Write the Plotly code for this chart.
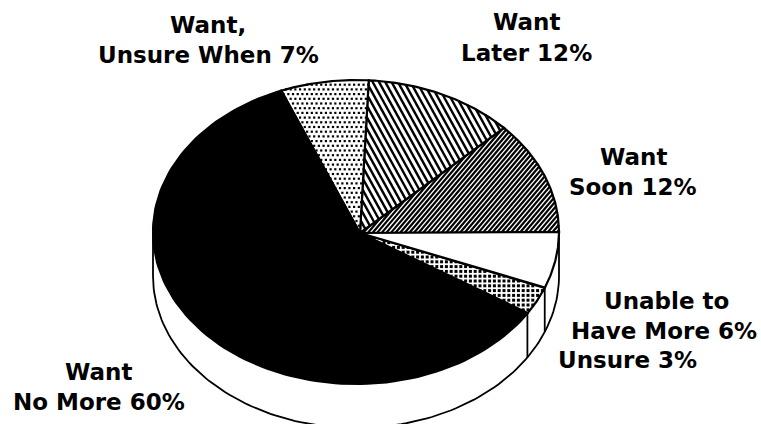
import numpy as np
import plotly.graph_objects as go

categories = ["Want Soon", "Want Later", "Want, Unsure When", "Want No More", "Unsure", "Unable to Have More"]
values = [12, 12, 7, 60, 3, 6]
label_lines = [
    ("Want,", 208, 25), ("Unsure When 7%", 208, 55),
    ("Want", 526, 22), ("Later 12%", 526, 53),
    ("Want", 633, 157), ("Soon 12%", 633, 187),
    ("Unable to", 666, 301), ("Have More 6%", 664, 331),
    ("Unsure 3%", 627, 360),
    ("Want", 98, 372), ("No More 60%", 99, 402),
]

CX, CY, RX, RY, DEPTH = 356, 232, 203, 152, 44
HUB = (360, 233)
FONT = dict(family="DejaVu Sans", size=23, color="black", weight="bold")

# texture per slice: fill colour, hatch (dx per dy, horizontal spacing, width) or dots (spacing, size, staggered)
fills = ["white", "white", "white", "black", "white", "white"]
hatches = [(-0.85, 4.6, 2.2), (0.55, 6.3, 2.4), None, None, None, None]
dots = [None, None, (4.7, 2.2, True), None, (4.8, 3, False), None]


def arc(a0, a1, dy=0, n=120):
    t = np.radians(np.linspace(a0, a1, n))
    return CX + RX * np.cos(t), CY + dy - RY * np.sin(t)


def hatch_lines(px, py, slope, spacing):
    """Clip lines x = c + slope * y to the convex polygon (px, py)."""
    xs, ys = [], []
    cs = px - slope * py
    for c in np.arange(np.floor(cs.min() / spacing) * spacing, cs.max(), spacing):
        d = px - slope * py - c
        hits = []
        for i in range(len(px) - 1):
            if d[i] * d[i + 1] < 0:
                u = d[i] / (d[i] - d[i + 1])
                hits.append((px[i] + u * (px[i + 1] - px[i]), py[i] + u * (py[i + 1] - py[i])))
        if len(hits) >= 2:
            xs += [hits[0][0], hits[-1][0], None]
            ys += [hits[0][1], hits[-1][1], None]
    return xs, ys


def inside(x, y, px, py):
    n = len(px) - 1
    cross = (px[1:n + 1] - px[:n])[:, None] * (y.ravel()[None, :] - py[:n, None]) - \
            (py[1:n + 1] - py[:n])[:, None] * (x.ravel()[None, :] - px[:n, None])
    return (cross >= -1e-9).all(axis=0) | (cross <= 1e-9).all(axis=0)


def dot_grid(px, py, spacing, staggered):
    gx, gy = np.meshgrid(np.arange(px.min(), px.max(), spacing), np.arange(py.min(), py.max(), spacing))
    if staggered:
        gx = gx + (np.arange(gx.shape[0])[:, None] % 2) * spacing / 2
    mask = inside(gx, gy, px, py)
    return gx.ravel()[mask], gy.ravel()[mask]


fig = go.Figure()
line = dict(color="black", width=2.2)
thin = dict(color="black", width=1.8)


def stroke(x, y, ln=line):
    fig.add_trace(go.Scatter(x=x, y=y, mode="lines", line=ln, showlegend=False, hoverinfo="skip"))


# side wall
xs, ys = arc(180, 360, DEPTH)
stroke(xs, ys, thin)
stroke([CX - RX, CX - RX], [CY, CY + DEPTH], thin)
stroke([CX + RX, CX + RX], [CY, CY + DEPTH], thin)

edges = np.cumsum([0] + values) * 3.6
for i, name in enumerate(categories):
    a0, a1 = edges[i], edges[i + 1]
    ax, ay = arc(a0, a1)
    px, py = np.r_[HUB[0], ax, HUB[0]], np.r_[HUB[1], ay, HUB[1]]
    fig.add_trace(go.Scatter(x=px, y=py, mode="lines", fill="toself", fillcolor=fills[i],
                             line=dict(color="black", width=0), name=name, showlegend=False, hoverinfo="name"))
    if hatches[i]:
        hx, hy = hatch_lines(px, py, hatches[i][0], hatches[i][1])
        stroke(hx, hy, dict(color="black", width=hatches[i][2]))
    if dots[i]:
        dx, dy = dot_grid(px, py, dots[i][0], dots[i][2])
        fig.add_trace(go.Scatter(x=dx, y=dy, mode="markers", showlegend=False, hoverinfo="skip",
                                 marker=dict(symbol="square", size=dots[i][1], color="black", line=dict(width=0))))
    stroke(px, py)
    if 180 < a1 < 360:
        xv, yv = arc(a1, a1, n=1)
        stroke([xv[0], xv[0]], [yv[0], yv[0] + DEPTH], thin)

for text, x, y in label_lines:
    fig.add_annotation(x=x, y=y, text=text, showarrow=False, font=FONT, xanchor="center", yanchor="middle")

fig.update_layout(
    width=761, height=424, margin=dict(l=0, r=0, t=0, b=0),
    paper_bgcolor="white", plot_bgcolor="white", showlegend=False,
    xaxis=dict(range=[0, 761], visible=False, fixedrange=True),
    yaxis=dict(range=[424, 0], visible=False, fixedrange=True),
)
fig.write_html("out.html", config=dict(displayModeBar=False),
               post_script="document.body.style.margin='0';document.body.style.overflow='hidden';")
